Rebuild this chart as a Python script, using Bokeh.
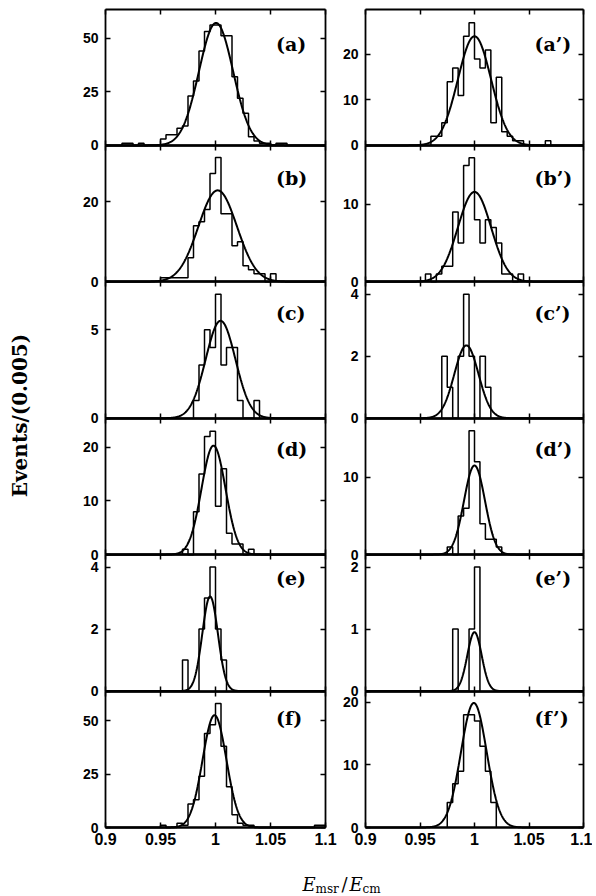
import numpy as np
from bokeh.plotting import figure
from bokeh.models import Range1d, LinearAxis, FixedTicker, Label, CustomJSTickFormatter
from bokeh.embed import file_html
from bokeh.resources import INLINE

# ---------------- data ----------------
BIN = 0.005
X_LO, X_HI = 0.9, 1.1
x_ticks = [0.9, 0.95, 1.0, 1.05, 1.1]

panel_labels = ["(a)", "(a’)", "(b)", "(b’)", "(c)", "(c’)",
                "(d)", "(d’)", "(e)", "(e’)", "(f)", "(f’)"]

# histogram: first bin lower edge, counts per 0.005 bin
a_start = 0.915
a_counts = [1, 1, 0, 1, 0, 0, 0, 3, 5, 5, 8, 9, 23, 30, 44, 53, 56, 56, 51, 51,
            32, 22, 15, 4, 2, 1, 1, 0, 1, 1]
ap_start = 0.96
ap_counts = [2, 2, 5, 14, 17, 11, 24, 27, 19, 17, 21, 5, 15, 3, 2, 1, 1, 0, 0, 0, 0, 1]
b_start = 0.95
b_counts = [1, 1, 1, 1, 1, 6, 14, 15, 18, 27, 31, 17, 17, 9, 10, 4, 3, 2, 2, 0, 2]
bp_start = 0.955
bp_counts = [1, 0, 1, 2, 2, 9, 5, 15, 16, 8, 5, 8, 7, 5, 1, 1, 0, 1]
c_start = 0.98
c_counts = [1, 3, 5, 4, 7, 3, 4, 4, 1, 0, 0, 1]
cp_start = 0.97
cp_counts = [2, 1, 0, 2, 4, 2, 0, 2, 1]
d_start = 0.97
d_counts = [1, 0, 8, 15, 22, 23, 9, 16, 4, 2, 2, 0, 1]
dp_start = 0.975
dp_counts = [1, 0, 5, 6, 16, 12, 4, 2, 2, 1]
e_start = 0.97
e_counts = [1, 0, 0, 2, 3, 4, 2, 1]
ep_start = 0.98
ep_counts = [1, 0, 0, 1, 2]
f_start = 0.95
f_counts = [1, 0, 0, 2, 1, 11, 13, 24, 44, 48, 58, 38, 19, 6, 2, 1, 1,
            0, 0, 0, 0, 0, 0, 0, 0, 0, 0, 0, 1, 1]
fp_start = 0.975
fp_counts = [4, 7, 9, 18, 18, 17, 13, 9, 4]

# gaussian fits: (amplitude, mean, sigma)
a_fit = (57.0, 1.0005, 0.0155)
ap_fit = (24.0, 1.0, 0.0152)
b_fit = (22.8, 1.002, 0.0175)
bp_fit = (11.6, 1.0, 0.0152)
c_fit = (5.5, 1.0046, 0.0135)
cp_fit = (2.35, 0.9926, 0.0111)
d_fit = (20.3, 0.9982, 0.0109)
dp_fit = (11.5, 1.0, 0.0096)
e_fit = (3.05, 0.9951, 0.0071)
ep_fit = (0.95, 1.0, 0.0066)
f_fit = (52.5, 0.9991, 0.0108)
fp_fit = (19.9, 0.9994, 0.0118)

# vertical axis maxima and ticks
y_max = [63.5, 30.0, 34.0, 17.6, 7.7, 4.4, 25.4, 17.6, 4.4, 2.2, 63.8, 21.8]
y_ticks = [[0, 25, 50], [0, 10, 20], [0, 20], [0, 10], [0, 5], [0, 2, 4],
           [0, 10, 20], [0, 10], [0, 2, 4], [0, 1, 2], [0, 25, 50], [0, 10, 20]]

starts = [a_start, ap_start, b_start, bp_start, c_start, cp_start,
          d_start, dp_start, e_start, ep_start, f_start, fp_start]
counts = [a_counts, ap_counts, b_counts, bp_counts, c_counts, cp_counts,
          d_counts, dp_counts, e_counts, ep_counts, f_counts, fp_counts]
fits = [a_fit, ap_fit, b_fit, bp_fit, c_fit, cp_fit,
        d_fit, dp_fit, e_fit, ep_fit, f_fit, fp_fit]
label_off = [35, 35, 33, 33, 31, 31, 31, 31, 23, 23, 27, 27]   # px below panel top

# ---------------- layout (page pixels) ----------------
W, H = 592, 894
COL_X0 = [105, 365]
COL_W = [220, 218]
NROW = 6
TOP, BOT = 8.5, 827.0
ROW_H = (BOT - TOP) / NROW

TICK_FONT = "Liberation Sans"
SERIF = "DejaVu Serif"

p = figure(width=W, height=H, output_backend="svg", toolbar_location=None,
           x_axis_type=None, y_axis_type=None,
           x_range=Range1d(0, W), y_range=Range1d(H, 0),
           min_border_left=0, min_border_right=0,
           min_border_top=0, min_border_bottom=0)
p.outline_line_color = None
p.background_fill_color = "white"
p.border_fill_color = "white"

for c in range(2):
    s = (X_HI - X_LO) / COL_W[c]
    st = X_LO - COL_X0[c] * s
    p.extra_x_ranges[f"x{c}"] = Range1d(st, st + W * s)

fmt = CustomJSTickFormatter(code="return String(Math.round(tick*1000)/1000)")

for i in range(12):
    r, c = divmod(i, 2)
    ym = y_max[i]
    yname = f"y{i}"
    xname = f"x{c}"
    u = ym / ROW_H
    yb = TOP + (r + 1) * ROW_H           # page y of this panel's zero line
    p.extra_y_ranges[yname] = Range1d(-(H - yb) * u, yb * u)

    common = dict(x_range_name=xname, y_range_name=yname,
                  major_tick_in=5, major_tick_out=0, minor_tick_in=0, minor_tick_out=0,
                  major_tick_line_width=1.5, axis_line_width=1.8,
                  major_label_text_font=TICK_FONT, major_label_text_font_style="bold")
    left = LinearAxis(fixed_location=X_LO, bounds=(0, ym), ticker=FixedTicker(ticks=y_ticks[i]),
                      major_label_text_font_size="14px", major_label_standoff=7,
                      major_label_text_color="black", **common)
    p.add_layout(left, "left")
    right = LinearAxis(fixed_location=X_HI, bounds=(0, ym), ticker=FixedTicker(ticks=y_ticks[i]),
                       major_label_text_color=None, **common)
    p.add_layout(right, "right")
    top = LinearAxis(fixed_location=ym, bounds=(X_LO, X_HI), ticker=FixedTicker(ticks=x_ticks),
                     major_label_text_color=None, **common)
    p.add_layout(top, "above")
    bcommon = dict(common)
    bcommon["axis_line_width"] = 2.6
    last = (r == NROW - 1)
    bottom = LinearAxis(fixed_location=0, bounds=(X_LO, X_HI), ticker=FixedTicker(ticks=x_ticks),
                        formatter=fmt, major_label_text_font_size="16px",
                        major_label_text_color=("black" if last else None),
                        major_label_standoff=5, **bcommon)
    p.add_layout(bottom, "below")

    # histogram outline
    cnt = np.array(counts[i], dtype=float)
    edges = starts[i] + BIN * np.arange(len(cnt) + 1)
    xs = np.concatenate([[edges[0]], edges])
    ys = np.concatenate([[0.0], cnt, [0.0]])
    p.step(xs, ys, mode="after", line_color="black", line_width=1.5,
           x_range_name=xname, y_range_name=yname)

    # gaussian fit
    A, mu, sg = fits[i]
    gx = np.linspace(X_LO, X_HI, 600)
    gy = A * np.exp(-0.5 * ((gx - mu) / sg) ** 2)
    p.line(gx, gy, line_color="black", line_width=2, x_range_name=xname, y_range_name=yname)

    # panel label
    p.add_layout(Label(x=1.055, y=ym * (1 - label_off[i] / ROW_H), text=panel_labels[i],
                       x_range_name=xname, y_range_name=yname,
                       text_font=SERIF, text_font_style="bold", text_font_size="19px",
                       text_align="left", text_baseline="middle", text_color="black"))

# y axis title
p.add_layout(Label(x=19, y=415, text="Events/(0.005)", angle=np.pi / 2,
                   text_font=SERIF, text_font_style="bold", text_font_size="20px",
                   text_align="center", text_baseline="middle", text_color="black"))

# x axis title  E_msr / E_cm
def xl(txt, px, py, size, style):
    p.add_layout(Label(x=px, y=py, text=txt,
                       text_font=SERIF, text_font_style=style, text_font_size=size,
                       text_align="left", text_baseline="alphabetic", text_color="black"))

xl("E", 302, 884, "18px", "italic")
xl("msr", 315, 888, "12px", "normal")
xl("/", 341, 884, "18px", "normal")
xl("E", 349, 884, "18px", "italic")
xl("cm", 362, 888, "12px", "normal")

open("out.html", "w").write(file_html(p, INLINE))
